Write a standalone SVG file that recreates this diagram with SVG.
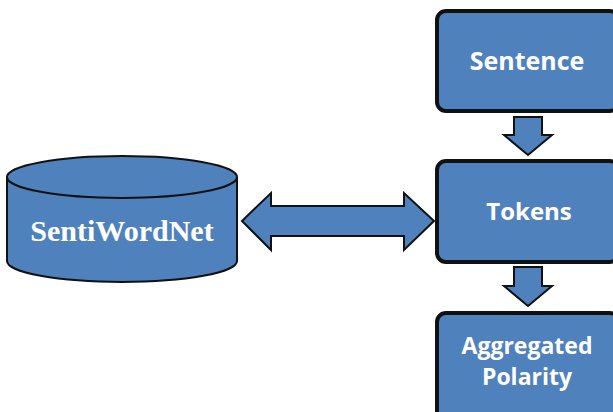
<svg xmlns="http://www.w3.org/2000/svg" width="613" height="412" viewBox="0 0 613 412">
  <style>
    .box { fill: #4F81BD; stroke: #111; stroke-width: 4; }
    .shape { fill: #4F81BD; stroke: #111; stroke-width: 2; stroke-linejoin: miter; }
    .lbl { fill: #fff; font-family: "Open Sans", "Liberation Sans", sans-serif; font-weight: bold; text-anchor: middle; }
    .db { fill: #fff; font-family: "Liberation Serif", serif; font-weight: bold; text-anchor: middle; }
  </style>
  <rect width="613" height="412" fill="#fff"/>

  <!-- connectors -->
  <g id="connectors">
    <path class="shape" d="M514 117 H542 V135 H552 L528 155 L504 135 H514 Z"/>
    <path class="shape" d="M514 267 H542 V286 H552 L528 306 L504 286 H514 Z"/>
    <path class="shape" d="M242 221 L271 193 V206 H404 V193 L434 221 L404 250 V236 H271 V250 Z"/>
  </g>

  <!-- SentiWordNet database -->
  <g id="sentiwordnet">
    <path class="shape" d="M7 177 V261 A115 21 0 0 0 237 261 V177"/>
    <ellipse class="shape" cx="122" cy="177" rx="115" ry="21"/>
    <text class="db" x="122" y="241" font-size="30">SentiWordNet</text>
  </g>

  <g id="sentence">
    <rect class="box" x="437" y="11" width="182" height="100" rx="9"/>
    <text class="lbl" x="527" y="70" font-size="25">Sentence</text>
  </g>

  <g id="tokens">
    <rect class="box" x="437" y="161" width="182" height="101" rx="9"/>
    <text class="lbl" x="529" y="220" font-size="24">Tokens</text>
  </g>

  <g id="aggregated">
    <rect class="box" x="437" y="313" width="182" height="110" rx="9"/>
    <text class="lbl" x="527" y="354" font-size="23">Aggregated</text>
    <text class="lbl" x="527" y="385" font-size="23">Polarity</text>
  </g>
</svg>
